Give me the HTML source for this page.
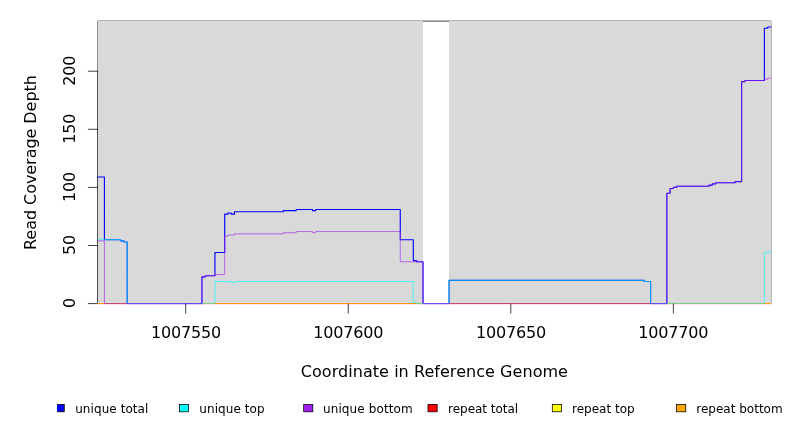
<!DOCTYPE html>
<html lang="en"><head><meta charset="utf-8"><title>Read Coverage Depth</title>
<style>
html,body{margin:0;padding:0;background:#fff;}
body{width:792px;height:432px;overflow:hidden;}
svg{display:block;}
text{font-family:"DejaVu Sans","Liberation Sans",sans-serif;fill:#000;}
.ax{font-size:16px;}
.lg{font-size:12px;}
</style></head><body>
<svg width="792" height="432" viewBox="0 0 792 432">
<rect x="0" y="0" width="792" height="432" fill="#ffffff"/>
<g stroke="#000" stroke-width="0.75" fill="none" stroke-linecap="round">
<path d="M97.92,303.20V21.12H770.88V303.20"/>
<line x1="97.92" y1="71.2" x2="97.92" y2="303.20"/>
<line x1="88.32" y1="303.6" x2="97.92" y2="303.6"/>
<line x1="88.32" y1="245.5" x2="97.92" y2="245.5"/>
<line x1="88.32" y1="187.4" x2="97.92" y2="187.4"/>
<line x1="88.32" y1="129.3" x2="97.92" y2="129.3"/>
<line x1="88.32" y1="71.2" x2="97.92" y2="71.2"/>
</g>
<g shape-rendering="crispEdges" fill="#d9d9d9">
<rect x="98" y="21" width="325" height="282"/>
<rect x="449" y="21" width="322" height="282"/>
</g>
<g>
<rect x="98.00" y="302" width="6.42" height="1" fill="#d6dde8"/>
<rect x="104.42" y="302" width="22.76" height="1" fill="#d4e0dc"/>
<rect x="127.18" y="302" width="74.77" height="1" fill="#dcdcd0"/>
<rect x="201.95" y="302" width="13.01" height="1" fill="#ddd6dd"/>
<rect x="214.96" y="302" width="201.56" height="1" fill="#d6dde8"/>
<rect x="416.52" y="302" width="6.50" height="1" fill="#ddd6dd"/>
<rect x="449.03" y="302" width="201.56" height="1" fill="#d4e0dc"/>
<rect x="650.59" y="302" width="16.25" height="1" fill="#dcdcd0"/>
<rect x="666.84" y="302" width="97.53" height="1" fill="#ddd6dd"/>
<rect x="764.37" y="302" width="6.51" height="1" fill="#d6dde8"/>
</g>
<defs><clipPath id="pc"><rect x="90" y="0" width="700" height="304"/></clipPath></defs>
<g fill="none" stroke-linejoin="round" stroke-linecap="round" clip-path="url(#pc)">
<path d="M97.92,303.6H770.88V303.6" stroke="#ff0000" stroke-width="0.75"/>
<path d="M97.92,303.6H770.88V303.6" stroke="#ffff00" stroke-opacity="0.4" stroke-width="0.75"/>
<path d="M97.92,303.6H770.88V303.6" stroke="#ffa500" stroke-width="0.75"/>
<path d="M97.92,176.94H104.42V239.69H120.68V240.85H123.93V242.01H127.18V303.6H201.95V276.87H205.2V275.71H214.96V252.47H224.71V214.13H227.96V212.96H231.21V214.13H234.46V211.8H283.23V210.64H296.23V209.48H312.49V210.64H315.74V209.48H400.26V239.69H413.27V260.61H416.52V261.77H423.02V303.6H449.03V280.36H644.09V281.52H650.59V303.6H666.84V193.21H670.1V188.56H673.35V187.4H676.6V186.24H709.11V185.08H712.36V183.91H715.61V182.75H735.12V181.59H741.62V81.66H744.87V80.5H764.37V28.21H767.63V27.04H770.88V27.04" stroke="#0000ff" stroke-width="1.125"/>
<path d="M97.92,239.69H120.68V240.85H123.93V242.01H127.18V303.6H214.96V281.52H231.21V282.68H234.46V281.52H413.27V302.44H416.52V303.6H449.03V280.36H644.09V281.52H650.59V303.6H764.37V252.47H770.88V252.47" stroke="#00ffff" stroke-opacity="0.85" stroke-width="0.75"/>
<path d="M97.92,240.85H104.42V303.6H201.95V276.87H205.2V275.71H214.96V274.55H224.71V236.2H227.96V235.04H234.46V233.88H283.23V232.72H296.23V231.56H312.49V232.72H315.74V231.56H400.26V261.77H423.02V303.6H666.84V193.21H670.1V188.56H673.35V187.4H676.6V186.24H709.11V185.08H712.36V183.91H715.61V182.75H735.12V181.59H741.62V81.66H744.87V80.5H764.37V79.33H767.63V78.17H770.88V78.17" stroke="#a020f0" stroke-opacity="0.85" stroke-width="0.75"/>
</g>
<g>
<rect x="97.92" y="303" width="6.50" height="1" fill="#ff9804"/>
<rect x="97.92" y="304" width="6.50" height="1" fill="#ffe4ee"/>
<rect x="104.42" y="303" width="22.20" height="1" fill="#c84678"/>
<rect x="104.42" y="304" width="22.20" height="1" fill="#ffe2ea"/>
<rect x="126.62" y="304" width="75.89" height="1" fill="#e4ccf0"/>
<rect x="202.51" y="303" width="12.45" height="1" fill="#78cc80"/>
<rect x="202.51" y="304" width="12.45" height="1" fill="#ffe6ea"/>
<rect x="214.96" y="303" width="201.56" height="1" fill="#ff9804"/>
<rect x="214.96" y="304" width="201.56" height="1" fill="#ffe4ee"/>
<rect x="416.52" y="303" width="5.94" height="1" fill="#78cc80"/>
<rect x="416.52" y="304" width="5.94" height="1" fill="#ffe6ea"/>
<rect x="422.46" y="304" width="27.13" height="1" fill="#e4ccf0"/>
<rect x="449.59" y="303" width="200.44" height="1" fill="#c84678"/>
<rect x="449.59" y="304" width="200.44" height="1" fill="#ffe2ea"/>
<rect x="650.03" y="304" width="17.37" height="1" fill="#e4ccf0"/>
<rect x="667.40" y="303" width="96.97" height="1" fill="#78cc80"/>
<rect x="667.40" y="304" width="96.97" height="1" fill="#ffe6ea"/>
<rect x="764.37" y="303" width="6.51" height="1" fill="#ff9804"/>
<rect x="764.37" y="304" width="6.51" height="1" fill="#ffe4ee"/>
</g>
<g stroke="#000" stroke-width="0.75" fill="none" stroke-linecap="round">
<line x1="185.7" y1="304.1" x2="185.7" y2="313.20"/>
<line x1="348.25" y1="304.1" x2="348.25" y2="313.20"/>
<line x1="510.8" y1="304.1" x2="510.8" y2="313.20"/>
<line x1="673.35" y1="304.1" x2="673.35" y2="313.20"/>
</g>
<text class="ax" x="151.05" y="338" letter-spacing="-0.18">1007550</text>
<text class="ax" x="313.15" y="338" letter-spacing="-0.18">1007600</text>
<text class="ax" x="476.1" y="338" letter-spacing="-0.18">1007650</text>
<text class="ax" x="638.2" y="338" letter-spacing="-0.18">1007700</text>
<text class="ax" transform="translate(75,303.10) rotate(-90)" text-anchor="middle" letter-spacing="-0.18">0</text>
<text class="ax" transform="translate(75,245.00) rotate(-90)" text-anchor="middle" letter-spacing="-0.18">50</text>
<text class="ax" transform="translate(75,186.90) rotate(-90)" text-anchor="middle" letter-spacing="-0.18">100</text>
<text class="ax" transform="translate(75,128.80) rotate(-90)" text-anchor="middle" letter-spacing="-0.18">150</text>
<text class="ax" transform="translate(75,70.70) rotate(-90)" text-anchor="middle" letter-spacing="-0.18">200</text>
<text class="ax" x="434.4" y="376.6" text-anchor="middle" letter-spacing="0.05">Coordinate in Reference Genome</text>
<text class="ax" transform="translate(36.1,162.6) rotate(-90)" text-anchor="middle" letter-spacing="-0.05">Read Coverage Depth</text>
<defs><clipPath id="lclip"><rect x="57" y="390" width="735" height="42"/></clipPath></defs>
<g clip-path="url(#lclip)">
<rect x="55.10" y="404.4" width="9.15" height="7.4" fill="#0000ff" stroke="#000" stroke-width="0.75"/>
<rect x="179.40" y="404.4" width="9.15" height="7.4" fill="#00ffff" stroke="#000" stroke-width="0.75"/>
<rect x="303.70" y="404.4" width="9.15" height="7.4" fill="#a020f0" stroke="#000" stroke-width="0.75"/>
<rect x="428.00" y="404.4" width="9.15" height="7.4" fill="#ff0000" stroke="#000" stroke-width="0.75"/>
<rect x="552.30" y="404.4" width="9.15" height="7.4" fill="#ffff00" stroke="#000" stroke-width="0.75"/>
<rect x="676.60" y="404.4" width="9.15" height="7.4" fill="#ffa500" stroke="#000" stroke-width="0.75"/>
</g>
<text class="lg" x="75.20" y="412.7" letter-spacing="0.07">unique total</text>
<text class="lg" x="199.30" y="412.7" letter-spacing="0.08">unique top</text>
<text class="lg" x="323.00" y="412.7" letter-spacing="0.11">unique bottom</text>
<text class="lg" x="448.10" y="412.7" letter-spacing="-0.03">repeat total</text>
<text class="lg" x="572.00" y="412.7" letter-spacing="0">repeat top</text>
<text class="lg" x="696.30" y="412.7" letter-spacing="0">repeat bottom</text>
</svg>
</body></html>
